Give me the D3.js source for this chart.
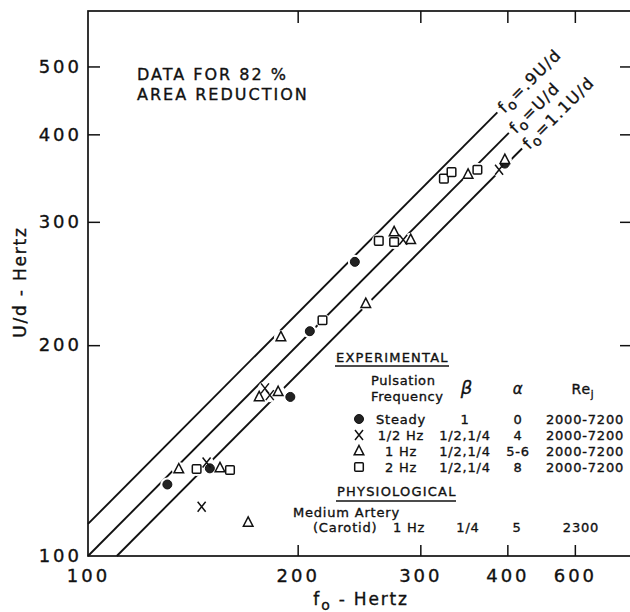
<!DOCTYPE html>
<html>
<head>
<meta charset="utf-8">
<script src="https://cdnjs.cloudflare.com/ajax/libs/d3/7.8.5/d3.min.js"></script>
<style>
body { margin: 0; background: #fff; }
text { font-family: "DejaVu Sans", sans-serif; fill: #111; stroke: #111; stroke-width: 0.35px; }
</style>
</head>
<body>
<div class="chart"></div>
<script>
// points: [f0 (Hz), U/d (Hz)]
var steadyPts = [[130.0, 126.5], [149.6, 133.4], [195.2, 168.7], [208.2, 209.4], [241.6, 263.0], [396.7, 363.3]];
var halfHzPts = [[145.6, 117.6], [148.0, 136.0], [179.5, 173.5], [182.4, 169.7], [283.5, 282.9], [389.2, 356.1]];
var oneHzPts = [[135.0, 133.1], [154.7, 133.6], [169.8, 111.7], [189.2, 205.5], [176.1, 168.7], [187.5, 171.6],
  [250.5, 229.3], [275.1, 290.2], [290.6, 282.9], [351.3, 350.7], [396.7, 368.1]];
var twoHzPts = [[143.2, 133.1], [159.9, 132.7], [217.1, 217.1], [261.5, 281.8], [275.1, 280.8],
  [324.3, 345.8], [332.6, 353.3], [362.3, 356.1]];

// reference lines f0 = k * U/d
var fitK = [0.9, 1.0, 1.1];
var fitLabels = ["=.9U/d", "=U/d", "=1.1U/d"];
var fitEndF = [387, 402, 420];

var xTickValues = [100, 200, 300, 400, 500];
var xTickLabels = ["100", "200", "300", "400", "600"];
var yTickValues = [100, 200, 300, 400, 500];

// legend table
var legendSymbols = ["steady", "x", "tri", "sq"];
var legendFreq = ["Steady", "1/2 Hz", "1 Hz", "2 Hz"];
var legendBeta = ["1", "1/2,1/4", "1/2,1/4", "1/2,1/4"];
var legendAlpha = ["0", "4", "5-6", "8"];
var legendRe = ["2000-7200", "2000-7200", "2000-7200", "2000-7200"];

var svgWidth = 630;
var svgHeight = 612;
var margin = { top: 11, left: 88 };
var width = 542;
var height = 545;

var svg = d3.select(".chart")
  .append("svg")
  .attr("width", svgWidth)
  .attr("height", svgHeight);

var chartGroup = svg.append("g")
  .attr("transform", `translate(${margin.left}, ${margin.top})`);

var x = d3.scaleLog().domain([100, 600]).range([0, width]);
var y = d3.scaleLog().domain([100, 600]).range([height, 0]);

// frame
chartGroup.append("rect")
  .attr("x", 0).attr("y", 0)
  .attr("width", width + 2).attr("height", height)
  .attr("fill", "none").attr("stroke", "#111").attr("stroke-width", 1.7);

// axes with inward ticks
var bottomAxis = d3.axisBottom(x).tickValues(xTickValues)
  .tickFormat((d, i) => xTickLabels[i]).tickSizeInner(-11).tickSizeOuter(0).tickPadding(13);
var leftAxis = d3.axisLeft(y).tickValues(yTickValues)
  .tickFormat(d3.format("d")).tickSizeInner(-12).tickSizeOuter(0).tickPadding(6);

var xAxis = chartGroup.append("g")
  .attr("transform", `translate(0, ${height})`)
  .call(bottomAxis);
var yAxis = chartGroup.append("g").call(leftAxis);

chartGroup.append("g")
  .call(d3.axisTop(x).tickValues(xTickValues.slice(1)).tickFormat("").tickSizeInner(-12).tickSizeOuter(0));
chartGroup.append("g")
  .attr("transform", `translate(${width}, 0)`)
  .call(d3.axisRight(y).tickValues(yTickValues.slice(1)).tickFormat("").tickSizeInner(-10).tickSizeOuter(0));

chartGroup.selectAll(".domain").remove();
chartGroup.selectAll(".tick line").attr("stroke", "#111").attr("stroke-width", 1.5);
chartGroup.selectAll(".tick line").filter(d => d === 100).remove();
[xAxis, yAxis].forEach(function (ax) {
  ax.selectAll("text")
    .style("font-family", "DejaVu Sans, sans-serif")
    .style("font-size", "18px")
    .style("letter-spacing", "3px")
    .attr("fill", "#111")
    .attr("stroke", "#111")
    .attr("stroke-width", 0.4);
});

// reference lines
var line = d3.line().x(d => x(d[0])).y(d => y(d[1]));
fitK.forEach(function (k, i) {
  var f0 = Math.max(100, 100 * k);
  chartGroup.append("path")
    .datum([[f0, f0 / k], [fitEndF[i], fitEndF[i] / k]])
    .attr("d", line)
    .attr("fill", "none")
    .attr("stroke", "#111")
    .attr("stroke-width", 1.9);

  var lbl = chartGroup.append("text")
    .attr("transform", `translate(${x(fitEndF[i])}, ${y(fitEndF[i] / k)}) rotate(-45)`)
    .attr("x", 4)
    .attr("y", 6)
    .style("font-size", "16px")
    .style("letter-spacing", "1.5px");
  lbl.append("tspan").text("f");
  lbl.append("tspan").attr("dy", 4).style("font-size", "14px").text("o");
  lbl.append("tspan").attr("dy", -4).text(fitLabels[i]);
});

// marker shapes
function drawMarker(g, kind) {
  if (kind === "steady") {
    g.append("circle").attr("r", 4.5).attr("fill", "#222").attr("stroke", "#111").attr("stroke-width", 1);
  } else if (kind === "x") {
    g.append("path").attr("d", "M-4,-5L4,5M-4,5L4,-5").attr("fill", "none");
  } else if (kind === "tri") {
    g.append("path").attr("d", "M0,-5.5L4.8,3.8L-4.8,3.8Z").attr("fill", "#fff");
  } else {
    g.append("rect").attr("x", -4.3).attr("y", -4.3).attr("width", 8.6).attr("height", 8.6)
      .attr("rx", 1).attr("fill", "#fff");
  }
  g.selectAll("path, rect").attr("stroke", "#111").attr("stroke-width", 1.5);
}

var seriesData = [
  { kind: "steady", pts: steadyPts },
  { kind: "x", pts: halfHzPts },
  { kind: "tri", pts: oneHzPts },
  { kind: "sq", pts: twoHzPts }
];

// white halos break the lines around the points
seriesData.forEach(function (s) {
  chartGroup.selectAll(null)
    .data(s.pts)
    .enter()
    .append("circle")
    .attr("cx", d => x(d[0]))
    .attr("cy", d => y(d[1]))
    .attr("r", 7)
    .attr("fill", "#fff");
});

seriesData.forEach(function (s) {
  chartGroup.selectAll(null)
    .data(s.pts)
    .enter()
    .append("g")
    .attr("transform", d => `translate(${x(d[0])}, ${y(d[1])})`)
    .each(function () { drawMarker(d3.select(this), s.kind); });
});

// note
var note = svg.append("g").style("font-size", "16px").style("letter-spacing", "2px");
note.append("text").attr("x", 137).attr("y", 80).text("DATA FOR 82 %");
note.append("text").attr("x", 137).attr("y", 100).text("AREA REDUCTION");

// axis titles
svg.append("text")
  .attr("transform", "translate(26, 282) rotate(-90)")
  .style("text-anchor", "middle")
  .style("font-size", "17px")
  .style("letter-spacing", "1.8px")
  .text("U/d - Hertz");

var xt = svg.append("text")
  .attr("x", 361).attr("y", 605)
  .style("text-anchor", "middle")
  .style("font-size", "17px")
  .style("letter-spacing", "1.8px");
xt.append("tspan").text("f");
xt.append("tspan").attr("dy", 5).style("font-size", "14px").text("o");
xt.append("tspan").attr("dy", -5).text(" - Hertz");

// legend table
var legend = svg.append("g").style("font-size", "13px").style("letter-spacing", "0.8px");

legend.append("text").attr("x", 336).attr("y", 362).style("font-size", "13px").style("letter-spacing", "1.2px")
  .text("EXPERIMENTAL");
legend.append("line").attr("x1", 335).attr("x2", 449).attr("y1", 366).attr("y2", 366)
  .attr("stroke", "#111").attr("stroke-width", 1.4);

legend.append("text").attr("x", 371).attr("y", 385).style("letter-spacing", "0.6px").text("Pulsation");
legend.append("text").attr("x", 371).attr("y", 401).style("letter-spacing", "0.6px").text("Frequency");
legend.append("text").attr("x", 467).attr("y", 394).style("text-anchor", "middle")
  .style("font-size", "18px").style("font-style", "italic").text("β");
legend.append("text").attr("x", 518).attr("y", 394).style("text-anchor", "middle")
  .style("font-size", "15px").style("font-style", "italic").text("α");
var reHead = legend.append("text").attr("x", 583).attr("y", 394).style("text-anchor", "middle")
  .style("font-size", "14px");
reHead.append("tspan").text("Re");
reHead.append("tspan").attr("dy", 4).style("font-size", "10px").text("j");

legendFreq.forEach(function (name, i) {
  var yy = 424 + i * 16;
  var mg = legend.append("g").attr("transform", `translate(359, ${yy - 5})`);
  drawMarker(mg, legendSymbols[i]);
  legend.append("text").attr("x", 401).attr("y", yy).style("text-anchor", "middle").text(name);
  legend.append("text").attr("x", 465).attr("y", yy).style("text-anchor", "middle").text(legendBeta[i]);
  legend.append("text").attr("x", 518).attr("y", yy).style("text-anchor", "middle").text(legendAlpha[i]);
  legend.append("text").attr("x", 585).attr("y", yy).style("text-anchor", "middle").text(legendRe[i]);
});

legend.append("text").attr("x", 337).attr("y", 496).style("font-size", "13px").style("letter-spacing", "1.2px")
  .text("PHYSIOLOGICAL");
legend.append("line").attr("x1", 336).attr("x2", 456).attr("y1", 501).attr("y2", 501)
  .attr("stroke", "#111").attr("stroke-width", 1.4);

legend.append("text").attr("x", 293).attr("y", 517).text("Medium Artery");
legend.append("text").attr("x", 313).attr("y", 532).text("(Carotid)");
legend.append("text").attr("x", 409).attr("y", 532).style("text-anchor", "middle").text("1 Hz");
legend.append("text").attr("x", 468).attr("y", 532).style("text-anchor", "middle").text("1/4");
legend.append("text").attr("x", 517).attr("y", 532).style("text-anchor", "middle").text("5");
legend.append("text").attr("x", 581).attr("y", 532).style("text-anchor", "middle").text("2300");
</script>
</body>
</html>
